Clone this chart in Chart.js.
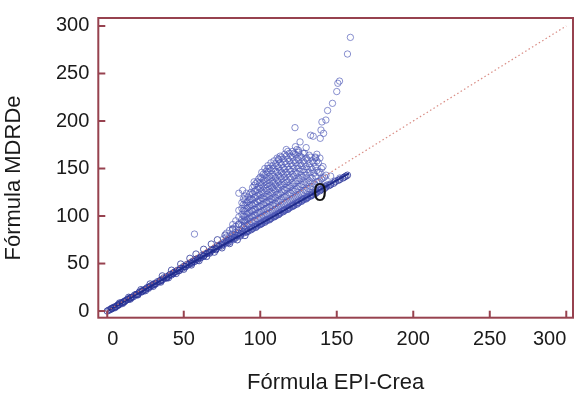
<!DOCTYPE html>
<html>
<head>
<meta charset="utf-8">
<script src="https://cdn.jsdelivr.net/npm/chart.js@4.4.1/dist/chart.umd.min.js"></script>
<style>
  html, body { margin: 0; padding: 0; background: #fff; }
  #wrap { width: 578px; height: 393px; }
</style>
</head>
<body>
<div id="wrap"><canvas id="chart" width="578" height="393"></canvas></div>
<script>
/* ================= DATA ================= */

const xTicks = [0, 50, 100, 150, 200, 250, 300];
const yTicks = [0, 50, 100, 150, 200, 250, 300];
const xTitle = "Fórmula EPI-Crea";
const yTitle = "Fórmula MDRDe";

// narrow band along the diagonal (EPI-Crea, MDRDe)
const bandPoints = [
  [0,0],[1,1],[2,1.5],[3,3],[4,3.5],[5,4.5],[6,5],[7,6.5],[8,7],[9,8.5],[10,9],[11,9.5],[12,11],[13,12],
  [14,12.5],[15,14],[16,14.5],[17,15],[18,17],[19,17.5],[20,18],[21,20],[22,20],[23,21.5],[24,22],[25,23],
  [26,24.5],[27,24],[28,26],[29,27],[30,27.5],[31,29],[32,29],[33,31],[34,31],[35,32.5],[36,33],[37,35],
  [38,34.5],[39,36],[40,37],[41,38.5],[42,38],[43,40],[44,41],[45,41.5],[46,43],[47,43],[48,45],[49,45],
  [50,47],[51,47],[52,49],[53,48.5],[54,50.5],[55,51],[56,52.5],[57,52],[58,54.5],[59,55],[60,56],[61,56],
  [62,58.5],[63,58],[64,60],[65,60.5],[66,62],[67,62],[68,64],[69,64.5],[70,66],[71,65.5],[72,68],[73,68],
  [74,70],[75,70],[76,72],[77,71.5],[78,74],[79,74],[80,76],[81,75.5],[82,78],[83,77.5],[84,80],[85,79.5],
  [86,82],[87,81],[88,84],[89,83],[90,86],
  [5,3.5],[10,8],[15,12.5],[20,17],[25,21.5],[30,26],[35,30.5],[40,35],[45,39.5],[50,44],[55,48.5],
  [60,53],[65,57.5],[70,62],[75,66.5],[80,71],[85,75],[90,79.5],
  [8,8.5],[14,14.5],[22,22.5],[28,28.5],[36,37],[42,43],[48,49.5],[54,55.5],[58,60],[63,65],[68,70.5],
  [72,75],[77,80],[82,86],[86,91],[90,95],
  [3,2.5],[7,6],[11,10],[15,13.5],[19,17],[23,20.5],[27,25],[31,28],[35,32],[39,35],[43,39.5],[47,42.5],
  [51,46.5],[55,50],[59,53.5],[63,57.5],[67,61],[71,64.5],[75,68.5],[79,72],[83,76],[87,79],
  [92,84],[95,87],[98,89.5],[101,92],[104,95],[107,97.5],[110,100],[113,103],[116,106],[119,108.5],
  [122,111],[125,114],[128,117],[131,119.5],[134,122],[137,125],[140,128],[143,130.5],[146,133],
  [149,136],[152,138.5],[155,141],[157,143],
  [91,83],[94,85.5],[97,88],[100,91],[103,93.5],[106,96],[109,99],[112,101.5],[115,104.5],[118,107],
  [121,110],[124,112.5],[127,115.5],[130,118],[133,121],[136,123.5],[139,126.5],[142,129],[145,132],
  [148,134.5],[151,137.5],[154,140],[156,142]
];

// the fan above the band, one column per EPI-Crea value
const fanColumnsX = [
  76, 78, 80, 82, 84, 86, 88, 89, 90, 91, 92, 93, 94, 95, 96, 97, 98, 99, 100, 101, 102, 103, 104, 105,
  106, 107, 108, 109, 110, 111, 112, 113, 114, 115, 116, 117, 118, 119, 120, 121, 122, 123, 124, 125,
  126, 127, 128, 129, 130, 131, 132, 133, 134, 135, 136, 137, 138, 139, 140, 141, 142, 143, 144, 146,
  149, 152
];
const fanColumnsY = [
  [70, 76],
  [72, 78, 82],
  [73, 79, 85],
  [75, 81, 87, 91],
  [77, 83, 89, 95],
  [79, 85, 92, 99, 106],
  [84, 90, 96, 102, 108, 114],
  [82, 88, 94, 100, 106, 112, 118],
  [86, 93, 99, 105, 111, 117, 121],
  [84, 90, 96, 102, 108, 114, 124],
  [85, 91, 97, 103, 109, 115, 120],
  [86, 92, 98, 104, 111, 117, 123],
  [88, 94, 100, 106, 112, 118, 125],
  [87, 93, 99, 105, 111, 117, 123, 130],
  [89, 95, 101, 107, 113, 119, 126, 132],
  [89, 95, 101, 107, 113, 120, 127, 134],
  [91, 97, 103, 109, 115, 121, 128, 136],
  [91, 97, 104, 110, 117, 124, 131, 139],
  [92, 98, 104, 110, 116, 122, 129, 135, 141],
  [93, 99, 105, 112, 119, 126, 133, 140, 146],
  [94, 100, 106, 112, 118, 124, 131, 138, 144],
  [95, 101, 107, 114, 121, 129, 136, 143, 150],
  [96, 102, 108, 114, 120, 127, 133, 140, 147],
  [96, 102, 109, 116, 123, 131, 138, 146, 153],
  [97, 103, 109, 115, 121, 128, 135, 142, 150],
  [98, 104, 111, 118, 125, 132, 140, 148, 156],
  [99, 105, 111, 117, 124, 130, 137, 144, 153],
  [100, 106, 113, 120, 128, 135, 142, 150, 158],
  [101, 107, 113, 119, 126, 133, 140, 147, 155],
  [102, 108, 116, 123, 131, 138, 146, 153, 161],
  [103, 109, 115, 122, 129, 136, 143, 151, 159],
  [104, 110, 117, 124, 133, 141, 148, 156, 163],
  [105, 111, 118, 125, 132, 139, 146, 154, 162],
  [106, 112, 120, 128, 136, 144, 151, 160],
  [107, 113, 120, 127, 134, 141, 149, 157, 165],
  [107, 114, 121, 130, 138, 146, 155, 163, 170],
  [108, 115, 122, 129, 136, 144, 152, 160, 168],
  [109, 116, 124, 132, 141, 149, 158, 166],
  [110, 117, 124, 131, 139, 147, 155, 163],
  [111, 118, 127, 135, 144, 153, 162, 168],
  [112, 119, 126, 134, 142, 150, 158, 166],
  [113, 120, 128, 137, 146, 156, 165, 173],
  [114, 121, 129, 137, 145, 153, 161, 170],
  [114, 122, 131, 140, 150, 159, 167],
  [116, 123, 131, 139, 147, 155, 163],
  [116, 124, 133, 143, 153, 162],
  [118, 125, 133, 141, 149, 158, 166],
  [118, 127, 136, 146, 156, 166],
  [119, 127, 135, 143, 152, 161],
  [120, 129, 139, 149, 159],
  [121, 129, 137, 146, 155, 164],
  [122, 131, 141, 151, 162],
  [123, 131, 140, 149, 158],
  [124, 134, 145, 156],
  [125, 133, 142, 152, 162],
  [126, 136, 148, 158],
  [127, 136, 146, 156],
  [128, 137, 146, 161],
  [129, 139, 150],
  [130, 140, 152],
  [131, 141],
  [132, 143],
  [133],
  [134, 142],
  [137],
  [140]
];

// isolated points
const outlierPoints = [
  [57,81],[86,124],[88.5,127],[96,136],[105,150],[112,160],[125,169],[130,172],[136,161],[137,165],
  [122.7,193],[126,178],[132.9,185],[134.6,184],[139.2,181.8],[139.7,190.5],[141.4,187],[140.3,199],
  [142.9,201],[144,211],[147.2,218.6],[150,231],[150.7,239.7],[151.8,242],[157,270.5],[158.9,288]
];

const identityLine = [[0,0],[300,300]];
const trendLine = [[0,0],[158,145]];

const annotationText = "0";
const annotationAt = [139, 123];

/* ================= BUILD ================= */

const toXY = arr => arr.map(p => ({ x: p[0], y: p[1] }));

const fanPoints = [];
fanColumnsX.forEach((x, i) => {
  fanColumnsY[i].forEach(y => fanPoints.push({ x: x, y: y }));
});

const FRAME = "#97424f";
const FONT = "'Liberation Sans', Arial, sans-serif";

const framePlugin = {
  id: "frame",
  afterDraw(chart) {
    const { ctx, chartArea: a, scales } = chart;
    ctx.save();
    ctx.strokeStyle = FRAME;
    ctx.lineWidth = 2;
    ctx.strokeRect(a.left, a.top, a.right - a.left, a.bottom - a.top);
    // inward tick marks
    xTicks.forEach(v => {
      const px = scales.x.getPixelForValue(v);
      ctx.beginPath();
      ctx.moveTo(px, a.bottom);
      ctx.lineTo(px, a.bottom - 7);
      ctx.stroke();
    });
    yTicks.forEach(v => {
      const py = scales.y.getPixelForValue(v);
      ctx.beginPath();
      ctx.moveTo(a.left, py);
      ctx.lineTo(a.left + 7, py);
      ctx.stroke();
    });
    // stray label inside the plot
    ctx.fillStyle = "#111";
    ctx.font = "25px " + FONT;
    ctx.textAlign = "center";
    ctx.textBaseline = "middle";
    ctx.fillText(annotationText,
      scales.x.getPixelForValue(annotationAt[0]),
      scales.y.getPixelForValue(annotationAt[1]));
    // y axis title, sits a bit below the plot centre
    ctx.fillStyle = "#1a1a1a";
    ctx.font = "22px " + FONT;
    ctx.translate(14, 178);
    ctx.rotate(-Math.PI / 2);
    ctx.fillText(yTitle, 0, 0);
    ctx.restore();
  }
};

new Chart(document.getElementById("chart"), {
  type: "scatter",
  data: {
    datasets: [
      {
        label: "Banda",
        data: toXY(bandPoints),
        pointRadius: 3.2,
        pointBorderWidth: 1,
        borderColor: "rgba(40, 50, 150, 0.78)",
        backgroundColor: "rgba(255, 255, 255, 0)",
        order: 4
      },
      {
        label: "Dispersión",
        data: fanPoints.concat(toXY(outlierPoints)),
        pointRadius: 3.2,
        pointBorderWidth: 1,
        borderColor: "rgba(78, 88, 182, 0.66)",
        backgroundColor: "rgba(255, 255, 255, 0)",
        order: 3
      },
      {
        label: "Tendencia",
        type: "line",
        data: toXY(trendLine),
        borderColor: "#1f2b8c",
        borderWidth: 2,
        pointRadius: 0,
        order: 2
      },
      {
        label: "Identidad",
        type: "line",
        data: toXY(identityLine),
        borderColor: "rgba(210, 120, 110, 0.85)",
        borderWidth: 1.2,
        borderDash: [1.5, 2.5],
        pointRadius: 0,
        order: 1
      }
    ]
  },
  options: {
    responsive: false,
    animation: false,
    devicePixelRatio: 1,
    layout: { padding: { top: 18, right: 2, left: 0, bottom: 0 } },
    plugins: { legend: { display: false }, tooltip: { enabled: false } },
    scales: {
      x: {
        type: "linear",
        min: -5.85,
        max: 304.4,
        afterBuildTicks: s => { s.ticks = xTicks.map(v => ({ value: v })); },
        afterFit: s => { s.height = 75.3; s.paddingLeft = 0; s.paddingRight = 0; },
        grid: { display: false, drawTicks: false },
        border: { display: false },
        ticks: { color: "#1a1a1a", font: { family: FONT, size: 20 }, padding: 10, align: "inner" },
        title: {
          display: true,
          text: xTitle,
          color: "#1a1a1a",
          font: { family: FONT, size: 22 },
          padding: { top: 0, bottom: -3 }
        }
      },
      y: {
        type: "linear",
        min: -7,
        max: 308.4,
        afterBuildTicks: s => { s.ticks = yTicks.map(v => ({ value: v })); },
        afterFit: s => { s.width = 98.3; s.paddingTop = 0; s.paddingBottom = 0; },
        grid: { display: false, drawTicks: false },
        border: { display: false },
        ticks: { color: "#1a1a1a", font: { family: FONT, size: 20 }, padding: 9 },
        title: { display: false }
      }
    }
  },
  plugins: [framePlugin]
});
</script>
</body>
</html>
